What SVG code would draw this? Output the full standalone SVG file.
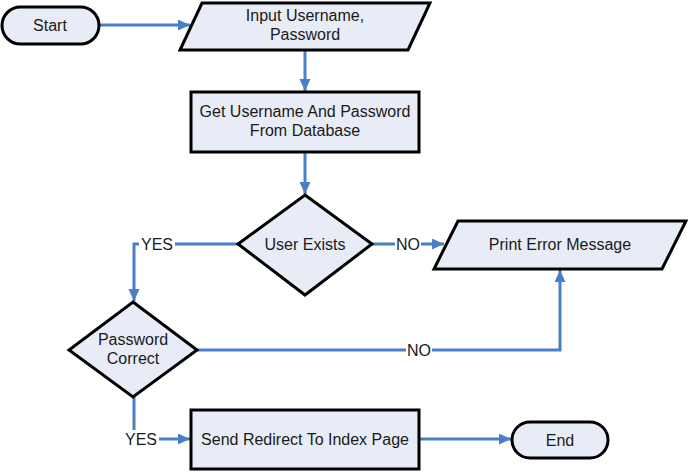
<svg xmlns="http://www.w3.org/2000/svg" width="688" height="472" viewBox="0 0 688 472">
<defs>
<style>
.shape{fill:#E8ECF6;stroke:#000;stroke-width:3;stroke-linejoin:miter}
.t{font-family:"Liberation Sans",Arial,sans-serif;font-size:16px;fill:#1a1a1a;text-anchor:middle}
.c{fill:none;stroke:#4A7EC7;stroke-width:3;marker-end:url(#arr)}
.bg{fill:#fff}
</style>
<marker id="arr" markerUnits="userSpaceOnUse" markerWidth="14" markerHeight="12" refX="12" refY="5.5" orient="auto">
<path d="M0,0 L12,5.5 L0,11 z" fill="#4A7EC7"/>
</marker>
</defs>
<g id="connectors">
<path class="c" d="M99,25 H190"/>
<path class="c" d="M305,50 V91"/>
<path class="c" d="M305,152 V194"/>
<path class="c" d="M238,244 H134 V301"/>
<path class="c" d="M372,244 H444"/>
<path class="c" d="M197,350 H560 V270"/>
<path class="c" d="M134,397 V439 H190"/>
<path class="c" d="M419,439 H511"/>
<g id="labels">
<rect class="bg" x="139" y="235" width="36" height="17"/>
<text class="t" x="157" y="250">YES</text>
<rect class="bg" x="395" y="235" width="26" height="17"/>
<text class="t" x="408" y="250">NO</text>
<rect class="bg" x="406" y="341" width="26" height="17"/>
<text class="t" x="419" y="356">NO</text>
<rect class="bg" x="123" y="430" width="36" height="17"/>
<text class="t" x="141" y="445">YES</text>
</g>
</g>
<g id="start">
<rect class="shape" x="2" y="7" width="97" height="37" rx="18.5"/>
<text class="t" x="50" y="31">Start</text>
</g>
<g id="input">
<polygon class="shape" points="202,3 430,3 408,50 180,50"/>
<text class="t" x="305" y="21">Input Username,</text>
<text class="t" x="305" y="40">Password</text>
</g>
<g id="getdb">
<rect class="shape" x="191" y="92" width="228" height="60"/>
<text class="t" x="305" y="117">Get Username And Password</text>
<text class="t" x="305" y="136">From Database</text>
</g>
<g id="userexists">
<polygon class="shape" points="305,195 372,244 305,295 238,244"/>
<text class="t" x="305" y="250">User Exists</text>
</g>
<g id="printerror">
<polygon class="shape" points="458,221 686,221 662,269 434,269"/>
<text class="t" x="560" y="250">Print Error Message</text>
</g>
<g id="passwordcorrect">
<polygon class="shape" points="133,302 197,350 133,397 69,350"/>
<text class="t" x="133" y="345">Password</text>
<text class="t" x="133" y="364">Correct</text>
</g>
<g id="redirect">
<rect class="shape" x="191" y="410" width="228" height="59"/>
<text class="t" x="305" y="445">Send Redirect To Index Page</text>
</g>
<g id="end">
<rect class="shape" x="512" y="422" width="96" height="36" rx="18"/>
<text class="t" x="560" y="446">End</text>
</g>
</svg>
